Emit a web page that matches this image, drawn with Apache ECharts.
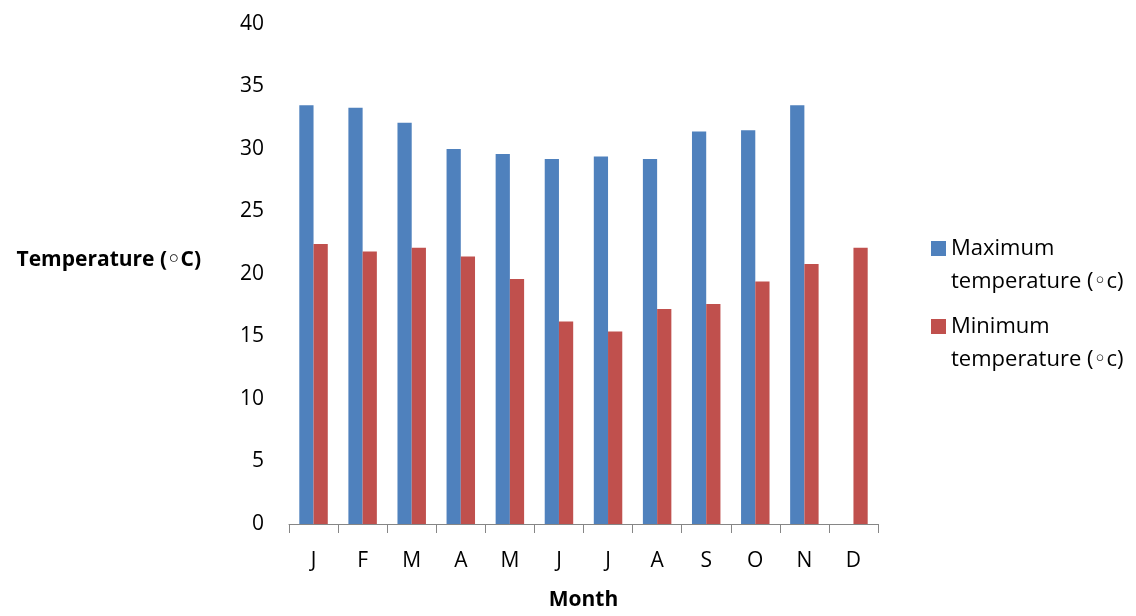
<!DOCTYPE html>
<html>
<head>
<meta charset="utf-8">
<script src="https://cdn.jsdelivr.net/npm/echarts@6/dist/echarts.min.js"></script>
<style>
  html, body { margin: 0; padding: 0; background: #fff; }
  #chart { width: 1136px; height: 616px; }
</style>
</head>
<body>
<div id="chart"></div>
<script>
// Monthly temperature data (°C)
const months = ['J', 'F', 'M', 'A', 'M', 'J', 'J', 'A', 'S', 'O', 'N', 'D'];
const maxTemp = [33.5, 33.3, 32.1, 30.0, 29.6, 29.2, 29.4, 29.2, 31.4, 31.5, 33.5, null];
const minTemp = [22.4, 21.8, 22.1, 21.4, 19.6, 16.2, 15.4, 17.2, 17.6, 19.4, 20.8, 22.1];
const seriesNames = ['Maximum\ntemperature (◦c)', 'Minimum\ntemperature (◦c)'];
const yTicks = { min: 0, max: 40, interval: 5 };

const FONT = '"Open Sans", "DejaVu Sans", sans-serif';
const chart = echarts.init(document.getElementById('chart'), null, { renderer: 'canvas' });

chart.setOption({
  animation: false,
  backgroundColor: '#ffffff',
  textStyle: { fontFamily: FONT, color: '#000' },
  grid: { left: 289, right: 258, top: 24, bottom: 85, containLabel: false },
  legend: {
    orient: 'vertical',
    left: 926,
    top: 194,
    itemWidth: 15,
    itemHeight: 15,
    itemGap: -21,
    icon: 'rect',
    selectedMode: false,
    data: seriesNames,
    // leading blank line keeps the first text line level with the swatch
    formatter: name => '\n' + name,
    textStyle: {
      fontFamily: FONT,
      fontSize: 22,
      color: '#000',
      lineHeight: 33
    }
  },
  xAxis: {
    type: 'category',
    data: months,
    name: 'Month',
    nameLocation: 'middle',
    nameGap: 66,
    nameTextStyle: { fontFamily: FONT, fontSize: 21, fontWeight: 'bold', color: '#000' },
    axisLine: { show: true, lineStyle: { color: '#868686', width: 1 } },
    axisTick: { show: true, length: 9, alignWithLabel: false, lineStyle: { color: '#868686' } },
    axisLabel: { margin: 27, fontSize: 21, color: '#000', fontFamily: FONT }
  },
  yAxis: {
    type: 'value',
    min: yTicks.min,
    max: yTicks.max,
    interval: yTicks.interval,
    name: 'Temperature (◦C)',
    nameLocation: 'middle',
    nameRotate: 0,
    nameGap: 88,
    nameTextStyle: {
      fontFamily: FONT, fontSize: 21, fontWeight: 'bold', color: '#000',
      align: 'right', verticalAlign: 'bottom', lineHeight: 28
    },
    axisLine: { show: false },
    axisTick: { show: false },
    splitLine: { show: false },
    axisLabel: { margin: 25, fontSize: 21, color: '#000', fontFamily: FONT }
  },
  series: [
    {
      name: seriesNames[0],
      type: 'bar',
      data: maxTemp,
      barGap: '0%',
      barCategoryGap: '42%',
      itemStyle: { color: '#4F81BD' }
    },
    {
      name: seriesNames[1],
      type: 'bar',
      data: minTemp,
      barGap: '0%',
      barCategoryGap: '42%',
      itemStyle: { color: '#C0504D' }
    }
  ]
});
</script>
</body>
</html>
